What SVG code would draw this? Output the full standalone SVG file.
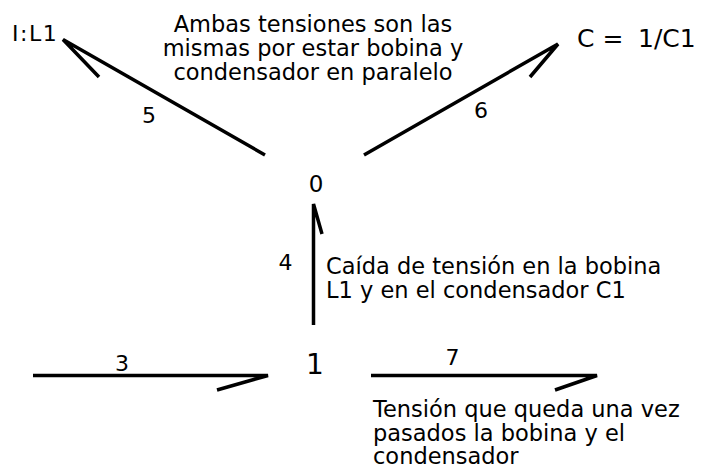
<svg xmlns="http://www.w3.org/2000/svg" width="705" height="473" viewBox="0 0 705 473">
<style>
text{font-family:"DejaVu Sans",Verdana,sans-serif;fill:#000}
.note{font-size:22.5px}
.lbl{font-size:22px;text-anchor:middle}
.bond{fill:none;stroke:#000;stroke-width:3.5}
</style>
<rect width="705" height="473" fill="#fff"/>
<g id="connectors">
<g id="bond5"><path class="bond" d="M265,155 L63,39.5 L99,77"/><text class="lbl" x="149" y="123">5</text></g>
<g id="bond6"><path class="bond" d="M364,155 L558,44 L530,77"/><text class="lbl" x="481" y="118">6</text></g>
<g id="bond4"><path class="bond" d="M313.5,325 L313.5,204 L322,234"/><text class="lbl" x="285.5" y="270">4</text></g>
<g id="bond3"><path class="bond" d="M33,375.5 L268,375.5 L217,390"/><text class="lbl" x="122" y="371">3</text></g>
<g id="bond7"><path class="bond" d="M371,375.5 L597,375.5 L555,390"/><text class="lbl" x="452.5" y="365">7</text></g>
</g>
<g id="node-IL1"><text x="12" y="41" font-size="22" letter-spacing="1.5">I:L1</text></g>
<g id="node-C"><text x="577" y="47" font-size="25">C = <tspan x="638">1/C1</tspan></text></g>
<g id="node-0"><text x="316" y="192" font-size="23" text-anchor="middle">0</text></g>
<g id="node-1"><text x="315" y="373.5" font-size="28" text-anchor="middle">1</text></g>
<g id="note-top" class="note" text-anchor="middle">
<text x="313" y="32">Ambas tensiones son las</text>
<text x="313" y="56">mismas por estar bobina y</text>
<text x="313" y="80">condensador en paralelo</text>
</g>
<g id="note-mid" class="note">
<text x="326" y="273.5">Caída de tensión en la bobina</text>
<text x="326" y="297.5">L1 y en el condensador C1</text>
</g>
<g id="note-bottom" class="note">
<text x="373" y="417">Tensión que queda una vez</text>
<text x="373" y="440.5">pasados la bobina y el</text>
<text x="373" y="464">condensador</text>
</g>
</svg>
